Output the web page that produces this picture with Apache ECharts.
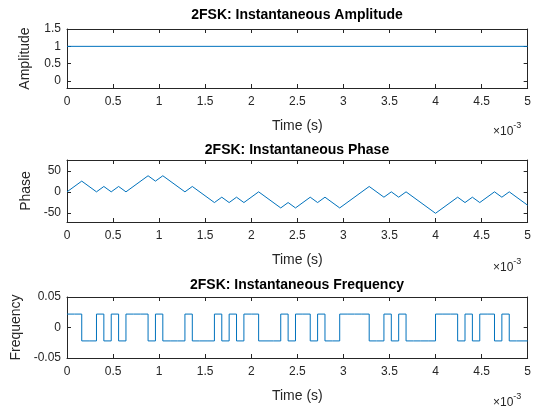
<!DOCTYPE html>
<html><head><meta charset="utf-8">
<script src="https://cdn.jsdelivr.net/npm/echarts@6/dist/echarts.min.js"></script>
<style>html,body{margin:0;padding:0;background:#fff}#c{width:534px;height:408px}</style>
</head><body><div id="c"></div><script>
// ---- data ----
const titles = ['2FSK: Instantaneous Amplitude', '2FSK: Instantaneous Phase', '2FSK: Instantaneous Frequency'];
const yNames = ['Amplitude', 'Phase', 'Frequency'];
const xName = 'Time (s)';
const xTicks = [0, 0.5, 1, 1.5, 2, 2.5, 3, 3.5, 4, 4.5, 5];           // ×10^-3 s
const ampTicks = [0, 0.5, 1, 1.5];
const phaseTicks = [-50, 0, 50];
const freqTicks = [-0.05, 0, 0.05];

const ampTimes = [0, 5];
const ampValues = [1, 1];

const phaseTimes = [0, 0.16, 0.32, 0.40, 0.48, 0.56, 0.64, 0.88, 0.96, 1.04, 1.28, 1.36, 1.60, 1.68, 1.76, 1.84, 1.92, 2.08, 2.32, 2.40, 2.48, 2.64, 2.72, 2.80, 2.96, 3.28, 3.44, 3.52, 3.60, 3.68, 4.00, 4.24, 4.32, 4.40, 4.48, 4.64, 4.72, 4.80, 5.00];
const phaseValues = [0, 25.6, 0, 12.8, 0, 12.8, 0, 38.4, 25.6, 38.4, 0, 12.8, -25.6, -12.8, -25.6, -12.8, -25.6, 0, -38.4, -25.6, -38.4, -12.8, -25.6, -12.8, -38.4, 12.8, -12.8, 0, -12.8, 0, -51.2, -12.8, -25.6, -12.8, -25.6, 0, -12.8, 0, -32];

const bitDuration = 0.08; // ×10^-3 s
const freqBits = [1,1,0,0,1,0,1,0,1,1,1,0,1,0,0,0,1,0,0,0,1,0,1,0,1,1,0,0,0,1,0,1,1,0,1,0,0,1,1,1,1,0,0,1,0,1,0,0,0,0,1,1,1,0,1,0,1,1,0,1,0,0,0];
const freqHigh = 0.022, freqLow = -0.022;

// ---- build ----
const freqData = freqBits.map((b, i) => [i * bitDuration, b ? freqHigh : freqLow]);
freqData.push([5, freqBits[freqBits.length - 1] ? freqHigh : freqLow]);

const AX = '#262626', BLUE = '#0072BD', FONT = 'Liberation Sans';
const grids = [
  {left: 67, width: 461, top: 29, height: 59},
  {left: 67, width: 461, top: 160, height: 62},
  {left: 67, width: 461, top: 297, height: 61}
];
const yCfg = [
  {min: -0.2, max: 1.5, ticks: ampTicks, gap: 35},
  {min: -72, max: 76, ticks: phaseTicks, gap: 32},
  {min: -0.05, max: 0.05, ticks: freqTicks, gap: 41}
];
const xAxes = [], yAxes = [];
grids.forEach((g, i) => {
  const base = {type: 'value', gridIndex: i, min: 0, max: 5, splitLine: {show: false},
    axisLine: {show: true, onZero: false, lineStyle: {color: AX, width: 1}},
    axisTick: {show: true, inside: true, length: 4, lineStyle: {color: AX}, customValues: xTicks}};
  xAxes.push(Object.assign({}, base, {position: 'bottom', name: xName, nameLocation: 'middle', nameGap: 31,
    nameTextStyle: {fontFamily: FONT, fontSize: 14, color: AX},
    axisLabel: {show: true, fontFamily: FONT, fontSize: 12, color: AX, margin: 8, customValues: xTicks,
      formatter: v => String(v)}}));
  xAxes.push(Object.assign({}, base, {position: 'top', axisLabel: {show: false}}));
  const yc = yCfg[i];
  const ybase = {type: 'value', gridIndex: i, min: yc.min, max: yc.max, splitLine: {show: false},
    axisLine: {show: true, onZero: false, lineStyle: {color: AX, width: 1}},
    axisTick: {show: true, inside: true, length: 4, lineStyle: {color: AX}, customValues: yc.ticks}};
  yAxes.push(Object.assign({}, ybase, {position: 'left', name: yNames[i], nameLocation: 'middle', nameGap: yc.gap,
    nameTextStyle: {fontFamily: FONT, fontSize: 14, color: AX},
    axisLabel: {show: true, fontFamily: FONT, fontSize: 12, color: AX, margin: 6, customValues: yc.ticks,
      formatter: v => String(v)}}));
  yAxes.push(Object.assign({}, ybase, {position: 'right', axisLabel: {show: false}}));
});

const titleY = [8, 143, 278];
const expY = [121, 257, 392];
const graphics = [];
titles.forEach((t, i) => {
  graphics.push({type: 'text', x: 297, y: titleY[i], style: {text: t, font: 'bold 14px ' + FONT, fill: '#000', textAlign: 'center'}});
  graphics.push({type: 'text', x: 493, y: expY[i], style: {
    text: '{a|×10}{b|-3}', rich: {a: {fontFamily: FONT, fontSize: 12, fill: AX, verticalAlign: 'bottom'},
      b: {fontFamily: FONT, fontSize: 9, fill: AX, verticalAlign: 'top', padding: [0,0,8,0]}}}});
});

const chart = echarts.init(document.getElementById('c'), null, {renderer: 'canvas'});
chart.setOption({
  animation: false,
  backgroundColor: '#fff',
  grid: grids,
  xAxis: xAxes,
  yAxis: yAxes,
  graphic: graphics,
  series: [
    {type: 'line', xAxisIndex: 0, yAxisIndex: 0, data: ampTimes.map((t, k) => [t, ampValues[k]]), showSymbol: false, lineStyle: {color: BLUE, width: 1}},
    {type: 'line', xAxisIndex: 2, yAxisIndex: 2, data: phaseTimes.map((t, k) => [t, phaseValues[k]]), showSymbol: false, lineStyle: {color: BLUE, width: 1}},
    {type: 'line', xAxisIndex: 4, yAxisIndex: 4, step: 'end', data: freqData, showSymbol: false, lineStyle: {color: BLUE, width: 1}}
  ]
});
</script></body></html>
